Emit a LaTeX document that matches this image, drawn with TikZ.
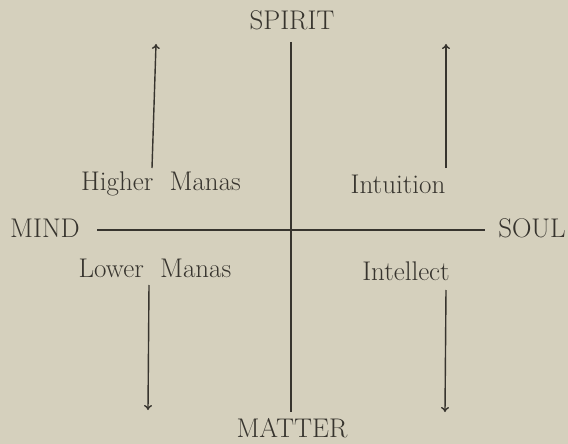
\documentclass[tikz,border=0pt]{standalone}
\usetikzlibrary{arrows.meta}
\definecolor{paper}{RGB}{213,208,189}
\definecolor{ink}{RGB}{55,52,46}
\begin{document}
\begin{tikzpicture}[x=1pt,y=-1pt,
  lbl/.style={text=ink,font=\fontsize{27}{32}\selectfont,inner sep=0pt},
  axis/.style={draw=ink,line width=1.6pt},
  arr/.style={draw=ink,line width=1.4pt,-{To[length=5pt,width=8pt]}}]
\fill[paper] (0,0) rectangle (568,444);
\useasboundingbox (0,0) rectangle (568,444);
\node[lbl] (spirit) at (292,20) {SPIRIT};
\node[lbl] (matter) at (292,428) {MATTER};
\node[lbl] (mind) at (45,228) {MIND};
\node[lbl] (soul) at (532,228) {SOUL};
\node[lbl] (hm) at (161,184) {Higher\ \ Manas};
\node[lbl] (intu) at (398,184) {Intuition};
\node[lbl] (lm) at (155,268) {Lower\ \ Manas};
\node[lbl] (intel) at (406,271) {Intellect};
\coordinate (vtop) at (291,42);
\coordinate (vbot) at (291,412);
\coordinate (hl) at (97,230);
\coordinate (hr) at (485,230);
\draw[axis] (vtop) -- (vbot);
\draw[axis] (hl) -- (hr);
\coordinate (a1s) at (152,168); \coordinate (a1e) at (156,44);
\coordinate (a2s) at (446,168); \coordinate (a2e) at (446,44);
\coordinate (a3s) at (149,285); \coordinate (a3e) at (148,410);
\coordinate (a4s) at (446,290); \coordinate (a4e) at (445,412);
\draw[arr] (a1s) -- (a1e);
\draw[arr] (a2s) -- (a2e);
\draw[arr] (a3s) -- (a3e);
\draw[arr] (a4s) -- (a4e);
\end{tikzpicture}
\end{document}
